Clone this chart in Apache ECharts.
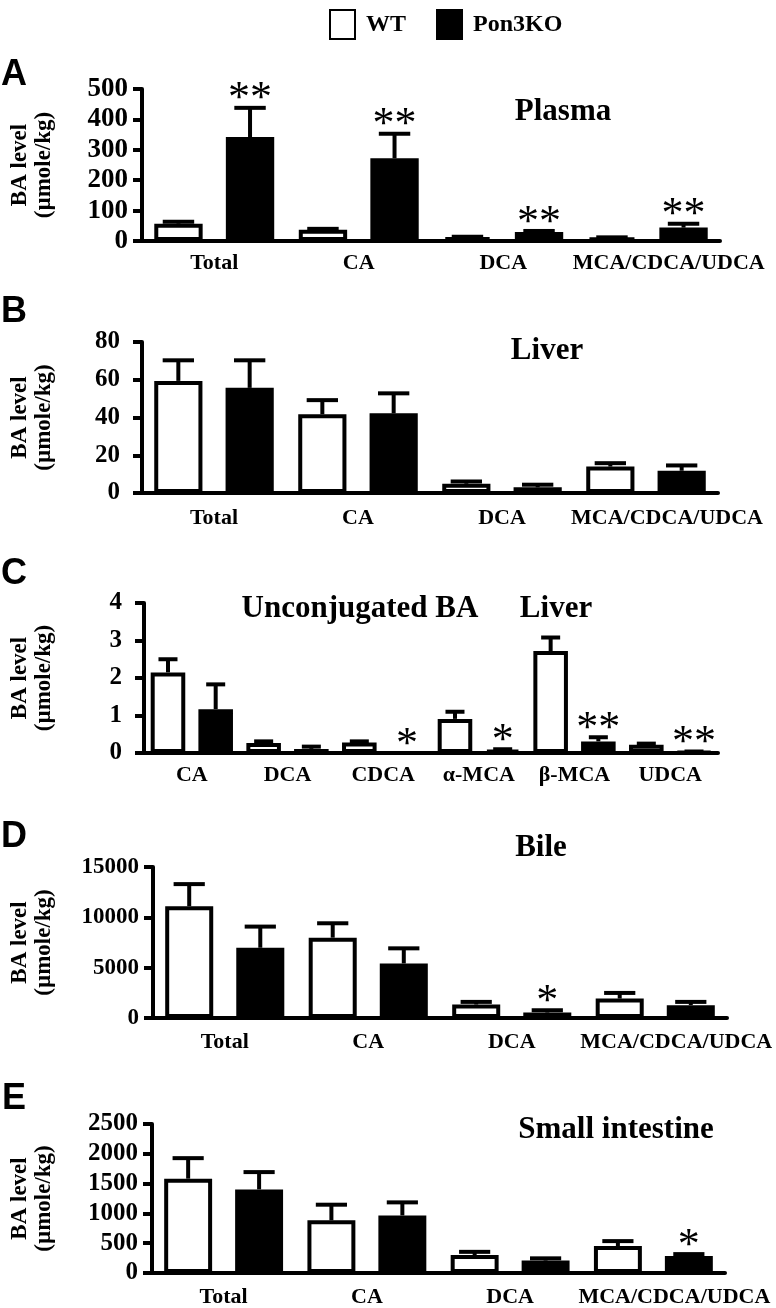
<!DOCTYPE html>
<html><head><meta charset="utf-8">
<script src="https://cdn.jsdelivr.net/npm/echarts@6/dist/echarts.min.js"></script>
<style>html,body{margin:0;padding:0;background:#fff;}#c{width:776px;height:1308px;}</style>
</head><body><div id="c"></div>
<script>
// ---------- data ----------
const groups = ['Total', 'CA', 'DCA', 'MCA/CDCA/UDCA'];
const groupsUnconj = ['CA', 'DCA', 'CDCA', 'α-MCA', 'β-MCA', 'UDCA'];
const seriesNames = ['WT', 'Pon3KO'];
const yName = 'BA level\n(µmole/kg)';

const plasmaWT = [57, 37, 13, 11];
const plasmaWTErr = [63, 40, 14, 12];
const plasmaKO = [342, 272, 30, 44];
const plasmaKOErr = [438, 353, 33, 57];
const plasmaSig = ['**', '**', '**', '**'];
const plasmaAxis = [0, 500, 100];

const liverWT = [59.4, 41.7, 4.9, 14.0];
const liverWTErr = [70.3, 49.2, 6.1, 15.8];
const liverKO = [55.7, 42.2, 3.0, 11.8];
const liverKOErr = [70.3, 52.8, 4.4, 14.6];
const liverSig = ['', '', '', ''];
const liverAxis = [0, 80, 20];

const unconjWT = [2.15, 0.27, 0.28, 0.91, 2.72, 0.22];
const unconjWTErr = [2.50, 0.31, 0.31, 1.10, 3.08, 0.25];
const unconjKO = [1.17, 0.11, 0.0, 0.08, 0.31, 0.03];
const unconjKOErr = [1.83, 0.17, 0.0, 0.10, 0.42, 0.04];
const unconjSig = ['', '', '*', '*', '**', '**'];
const unconjAxis = [0, 4, 1];

const bileWT = [11100, 7980, 1340, 1930];
const bileWTErr = [13300, 9410, 1600, 2490];
const bileKO = [6980, 5420, 540, 1270];
const bileKOErr = [9080, 6920, 770, 1600];
const bileSig = ['', '', '*', ''];
const bileAxis = [0, 15000, 5000];

const intWT = [1583, 884, 301, 453];
const intWTErr = [1927, 1146, 355, 535];
const intKO = [1403, 966, 208, 284];
const intKOErr = [1693, 1185, 246, 317];
const intSig = ['', '', '', '*'];
const intAxis = [0, 2500, 500];

const panelLetters = ['A', 'B', 'C', 'D', 'E'];
const panelTitles = [['Plasma'], ['Liver'], ['Unconjugated BA', 'Liver'], ['Bile'], ['Small intestine']];

// ---------- layout ----------
const SERIF = '"Liberation Serif", "Times New Roman", serif';
const panels = [
  {cats: groups, wt: plasmaWT, wtE: plasmaWTErr, ko: plasmaKO, koE: plasmaKOErr, sig: plasmaSig, ax: plasmaAxis,
   grid: {left: 137, top: 89, width: 583, height: 152}, letter: [14, 75], titles: [[563, 112]],
   tickFont: 27, tickMargin: 14, catMargin: 11},
  {cats: groups, wt: liverWT, wtE: liverWTErr, ko: liverKO, koE: liverKOErr, sig: liverSig, ax: liverAxis,
   grid: {left: 137, top: 342, width: 581, height: 151}, letter: [14, 312], titles: [[547, 351]],
   tickFont: 25, tickMargin: 22, catMargin: 14},
  {cats: groupsUnconj, wt: unconjWT, wtE: unconjWTErr, ko: unconjKO, koE: unconjKOErr, sig: unconjSig, ax: unconjAxis,
   grid: {left: 139, top: 603, width: 579, height: 150}, letter: [14, 574], titles: [[360, 609], [556, 609]],
   tickFont: 25, tickMargin: 22, catMargin: 11},
  {cats: groups, wt: bileWT, wtE: bileWTErr, ko: bileKO, koE: bileKOErr, sig: bileSig, ax: bileAxis,
   grid: {left: 148, top: 867, width: 579, height: 151}, letter: [14, 837], titles: [[541, 848]],
   tickFont: 23, tickMargin: 14, catMargin: 13},
  {cats: groups, wt: intWT, wtE: intWTErr, ko: intKO, koE: intKOErr, sig: intSig, ax: intAxis,
   grid: {left: 147, top: 1124, width: 578, height: 153}, letter: [14, 1099], titles: [[616, 1130]],
   tickFont: 25, tickMargin: 14, catMargin: 13}
];

const LW = 4;
const grids = [], xAxes = [], yAxes = [], series = [], graphics = [];

function errSeries(pi, vals, errs, sigs, side, catGap, barGap, capFrac) {
  return {
    type: 'custom', xAxisIndex: pi, yAxisIndex: pi, z: 5, silent: true,
    data: vals.map((v, i) => [i, v, errs[i]]),
    encode: {x: 0, y: [1, 2]},
    renderItem(params, api) {
      const i = api.value(0), v = api.value(1), e = api.value(2);
      const sig = sigs ? sigs[params.dataIndex] : '';
      const cw = api.size([1, 0])[0];
      const bw = cw * (1 - catGap) / (2 + barGap);
      const off = side * bw * (1 + barGap) / 2;
      const p0 = api.coord([i, v]);
      const p1 = api.coord([i, e]);
      const x = p0[0] + off;
      const st = {stroke: '#000', lineWidth: LW};
      const ch = [];
      if (e > v) {
        ch.push({type: 'line', shape: {x1: x, y1: p0[1], x2: x, y2: p1[1]}, style: st});
        ch.push({type: 'line', shape: {x1: x - bw * capFrac / 2, y1: p1[1], x2: x + bw * capFrac / 2, y2: p1[1]}, style: st});
      }
      if (sig) {
        ch.push({type: 'text', style: {text: sig, x: x, y: p1[1] - 8, align: 'center', verticalAlign: 'middle',
          font: '44px ' + SERIF, fill: '#000'}});
      }
      return {type: 'group', children: ch};
    }
  };
}

panels.forEach((p, pi) => {
  const six = p.cats.length === 6;
  const catGap = six ? 0.14 : 0.17;
  const barGap = six ? 0.38 : 0.48;
  const capFrac = six ? 0.55 : 0.65;
  grids.push(Object.assign({containLabel: false}, p.grid));
  xAxes.push({
    type: 'category', gridIndex: pi, data: p.cats,
    axisLine: {lineStyle: {color: '#000', width: LW}},
    axisTick: {show: false},
    axisLabel: {
      interval: 0, margin: p.catMargin, color: '#000', fontSize: 22, fontWeight: 'bold', fontFamily: SERIF,
      formatter: v => v === 'MCA/CDCA/UDCA' ? '{m|' + v + '}' : v,
      rich: {m: {padding: [0, 0, 0, 42], color: '#000', fontSize: 22, fontWeight: 'bold', fontFamily: SERIF}}
    },
    splitLine: {show: false}
  });
  yAxes.push({
    type: 'value', gridIndex: pi, min: p.ax[0], max: p.ax[1], interval: p.ax[2],
    axisLine: {show: true, lineStyle: {color: '#000', width: LW}},
    axisTick: {show: true, length: 9, lineStyle: {color: '#000', width: LW}},
    axisLabel: {margin: p.tickMargin, color: '#000', fontSize: p.tickFont, fontWeight: 'bold', fontFamily: SERIF,
      formatter: v => String(v)},
    splitLine: {show: false},
    name: yName, nameLocation: 'middle', nameRotate: 90, nameGap: p.grid.left - 51,
    nameTextStyle: {color: '#000', fontSize: 23, lineHeight: 24, fontWeight: 'bold', fontFamily: SERIF}
  });
  series.push({
    type: 'bar', name: seriesNames[0], xAxisIndex: pi, yAxisIndex: pi, data: p.wt,
    barCategoryGap: (catGap * 100) + '%', barGap: (barGap * 100) + '%',
    itemStyle: {color: '#fff', borderColor: '#000', borderWidth: LW}
  });
  series.push({
    type: 'bar', name: seriesNames[1], xAxisIndex: pi, yAxisIndex: pi, data: p.ko,
    barCategoryGap: (catGap * 100) + '%', barGap: (barGap * 100) + '%',
    itemStyle: {color: '#000', borderColor: '#000', borderWidth: LW}
  });
  series.push(errSeries(pi, p.wt, p.wtE, null, -1, catGap, barGap, capFrac));
  series.push(errSeries(pi, p.ko, p.koE, p.sig, 1, catGap, barGap, capFrac));
  graphics.push({type: 'text', x: p.letter[0], y: p.letter[1],
    style: {text: panelLetters[pi], align: 'center', verticalAlign: 'middle',
      font: 'bold 36px "Liberation Sans", Arial, sans-serif', fill: '#000'}});
  panelTitles[pi].forEach((t, k) => {
    graphics.push({type: 'text', x: p.titles[k][0], y: p.titles[k][1],
      style: {text: t, align: 'center', verticalAlign: 'middle', font: 'bold 31px ' + SERIF, fill: '#000'}});
  });
});

const chart = echarts.init(document.getElementById('c'), null, {renderer: 'canvas'});
chart.setOption({
  animation: false,
  backgroundColor: '#fff',
  legend: {
    data: seriesNames, left: 324, top: 4, icon: 'rect', itemWidth: 25, itemHeight: 29, itemGap: 30,
    textStyle: {color: '#000', fontSize: 24, fontWeight: 'bold', fontFamily: SERIF, padding: [0, 0, 0, 6]}
  },
  grid: grids, xAxis: xAxes, yAxis: yAxes, series: series, graphic: graphics
});
</script></body></html>
